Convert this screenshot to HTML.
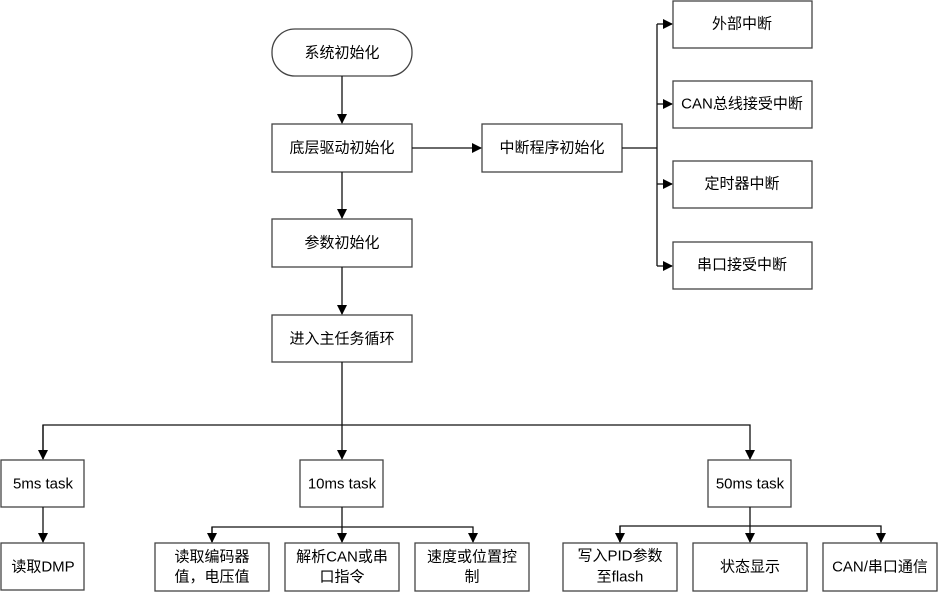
<!DOCTYPE html>
<html><head><meta charset="utf-8"><style>
body{margin:0;background:#fff}
svg text{font-family:"Liberation Sans","Noto Sans CJK SC",sans-serif;font-size:15px;fill:#000;text-anchor:middle;dominant-baseline:central}
.b{fill:#fff;stroke:#444;stroke-width:1.3}
.l{stroke:#111;stroke-width:1.3;fill:none}
</style></head><body>
<svg width="940" height="594" viewBox="0 0 940 594">
<defs><marker id="a" markerWidth="10" markerHeight="10" refX="9" refY="5" orient="auto" markerUnits="userSpaceOnUse"><path d="M0,0 L10,5 L0,10 z" fill="#000"/></marker></defs>
<rect class="b" x="272" y="29" width="140" height="47" rx="23"/><text x="342" y="53">系统初始化</text>
<rect class="b" x="272" y="124" width="140" height="48"/><text x="342" y="148">底层驱动初始化</text>
<rect class="b" x="482" y="124" width="140" height="48"/><text x="552" y="148">中断程序初始化</text>
<rect class="b" x="272" y="219" width="140" height="48"/><text x="342" y="243">参数初始化</text>
<rect class="b" x="272" y="315" width="140" height="47"/><text x="342" y="339">进入主任务循环</text>
<path class="l" d="M342,76 V123" marker-end="url(#a)"/>
<path class="l" d="M342,172 V218" marker-end="url(#a)"/>
<path class="l" d="M342,267 V314" marker-end="url(#a)"/>
<path class="l" d="M412,148 H481" marker-end="url(#a)"/>
<path class="l" d="M622,148 H657 M657,24 V266"/>
<path class="l" d="M657,24 H672" marker-end="url(#a)"/>
<path class="l" d="M657,104 H672" marker-end="url(#a)"/>
<path class="l" d="M657,184 H672" marker-end="url(#a)"/>
<path class="l" d="M657,266 H672" marker-end="url(#a)"/>
<rect class="b" x="673" y="1" width="139" height="47"/><text x="742" y="24">外部中断</text>
<rect class="b" x="673" y="81" width="139" height="47"/><text x="742" y="104">CAN总线接受中断</text>
<rect class="b" x="673" y="161" width="139" height="47"/><text x="742" y="184">定时器中断</text>
<rect class="b" x="673" y="242" width="139" height="47"/><text x="742" y="265">串口接受中断</text>
<path class="l" d="M342,362 V459" marker-end="url(#a)"/>
<path class="l" d="M43,459 V425 H750 V459" marker-end="url(#a)"/>
<path class="l" d="M43,425 V459" marker-end="url(#a)"/>
<rect class="b" x="1" y="460" width="83" height="47"/><text x="43" y="484">5ms task</text>
<rect class="b" x="300" y="460" width="83" height="47"/><text x="342" y="484">10ms task</text>
<rect class="b" x="708" y="460" width="83" height="47"/><text x="750" y="484">50ms task</text>
<path class="l" d="M43,507 V542" marker-end="url(#a)"/>
<rect class="b" x="1" y="543" width="83" height="47"/><text x="43" y="567">读取DMP</text>
<path class="l" d="M342,507 V542" marker-end="url(#a)"/>
<path class="l" d="M212,542 V527 H473 V542" marker-end="url(#a)"/>
<path class="l" d="M212,527 V542" marker-end="url(#a)"/>
<rect class="b" x="155" y="543" width="114" height="48"/><text x="212" y="557">读取编码器</text><text x="212" y="577">值，电压值</text>
<rect class="b" x="285" y="543" width="114" height="48"/><text x="342" y="557">解析CAN或串</text><text x="342" y="577">口指令</text>
<rect class="b" x="415" y="543" width="114" height="48"/><text x="472" y="557">速度或位置控</text><text x="472" y="577">制</text>
<path class="l" d="M750,507 V542" marker-end="url(#a)"/>
<path class="l" d="M620,542 V526 H881 V542" marker-end="url(#a)"/>
<path class="l" d="M620,526 V542" marker-end="url(#a)"/>
<rect class="b" x="563" y="543" width="114" height="48"/><text x="620" y="556">写入PID参数</text><text x="620" y="577">至flash</text>
<rect class="b" x="693" y="543" width="114" height="48"/><text x="750" y="567">状态显示</text>
<rect class="b" x="823" y="543" width="114" height="48"/><text x="880" y="567">CAN/串口通信</text>
</svg>
</body></html>
